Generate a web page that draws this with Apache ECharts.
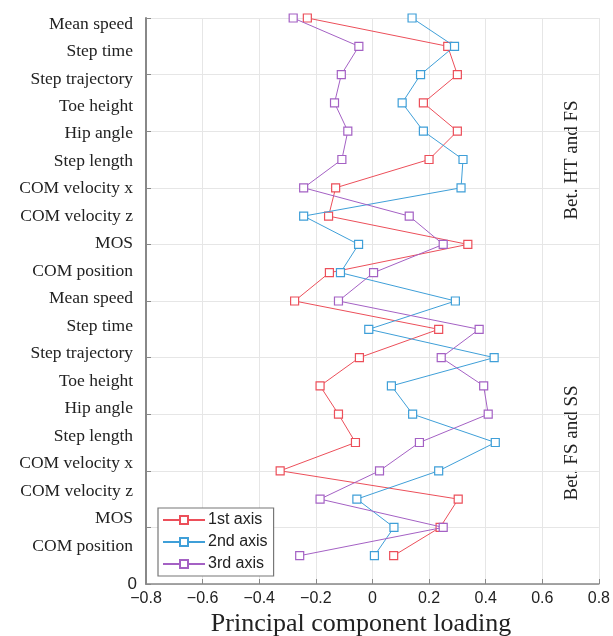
<!DOCTYPE html>
<html>
<head>
<meta charset="utf-8">
<script src="https://cdn.jsdelivr.net/npm/echarts@6/dist/echarts.min.js"></script>
<style>html,body{margin:0;padding:0;background:#fff}#c{width:613px;height:636px}</style>
</head>
<body>
<div id="c"></div>
<script>
var categories = ['Mean speed','Step time','Step trajectory','Toe height','Hip angle','Step length','COM velocity x','COM velocity z','MOS','COM position',
                  'Mean speed','Step time','Step trajectory','Toe height','Hip angle','Step length','COM velocity x','COM velocity z','MOS','COM position'];
var axis1 = [-0.23, 0.266, 0.30, 0.18, 0.30, 0.20, -0.13, -0.155, 0.337, -0.152,
             -0.275, 0.234, -0.046, -0.185, -0.12, -0.06, -0.326, 0.303, 0.239, 0.075];
var axis2 = [0.14, 0.29, 0.17, 0.105, 0.18, 0.32, 0.313, -0.243, -0.049, -0.113,
             0.293, -0.013, 0.43, 0.067, 0.142, 0.434, 0.234, -0.055, 0.076, 0.007];
var axis3 = [-0.28, -0.048, -0.11, -0.134, -0.087, -0.108, -0.243, 0.13, 0.25, 0.004,
             -0.12, 0.377, 0.243, 0.393, 0.409, 0.166, 0.025, -0.185, 0.25, -0.257];
var seriesNames = ['1st axis', '2nd axis', '3rd axis'];
var groupLabels = ['Bet. HT and FS', 'Bet. FS and SS'];
var colors = ['#ec4f5a', '#3f9fd8', '#a461c4'];

var n = categories.length;
function toPoints(arr){ return arr.map(function(v,i){ return [v, n - i]; }); }
function fmtX(v){
  var s = (Math.round(v*10)/10).toString();
  if (s === '0') return '0';
  return s.replace('-', '\u2212');
}
var datasets = [axis1, axis2, axis3];
var series = datasets.map(function(d, k){
  return {
    name: seriesNames[k], type: 'line', xAxisIndex: 0, yAxisIndex: 0,
    data: toPoints(d), symbol: 'rect', symbolSize: 8,
    lineStyle: { color: colors[k], width: 1 },
    itemStyle: { color: '#fff', borderColor: colors[k], borderWidth: 1.2 },
    animation: false, z: 3 + k
  };
});

var chart = echarts.init(document.getElementById('c'), null, {renderer: 'canvas'});
chart.setOption({
  backgroundColor: '#fff',
  animation: false,
  grid: [
    { left: 146, right: 13, top: 18, bottom: 52, containLabel: false },
    { left: 146, right: 13, top: 24, bottom: 90, containLabel: false }
  ],
  legend: {
    data: seriesNames, orient: 'vertical', left: 158, top: 508,
    itemWidth: 42, itemHeight: 10, itemGap: 6,
    borderColor: '#777', borderWidth: 1.2, padding: [4, 6, 4, 4],
    backgroundColor: '#fff',
    textStyle: { fontFamily: 'Liberation Sans', fontSize: 16, color: '#222', padding: [0,0,0,-2] }
  },
  xAxis: [
    {
      gridIndex: 0, type: 'value', min: -0.8, max: 0.8, interval: 0.2,
      axisLine: { show: true, onZero: false, lineStyle: { color: '#888', width: 1.5 } },
      axisTick: { show: true, inside: true, length: 5, lineStyle: { color: '#888' } },
      splitLine: { show: true, lineStyle: { color: '#e6e6e6', width: 1 } },
      axisLabel: { formatter: fmtX, fontFamily: 'Liberation Sans', fontSize: 16, color: '#222', margin: 7 }
    },
    {
      gridIndex: 1, type: 'value', min: -0.8, max: 0.8, show: false
    }
  ],
  yAxis: [
    {
      gridIndex: 0, type: 'value', min: 0, max: n, interval: 2,
      axisLine: { show: true, onZero: false, lineStyle: { color: '#888', width: 2 } },
      axisTick: { show: true, inside: true, length: 5, lineStyle: { color: '#888' } },
      splitLine: { show: true, lineStyle: { color: '#e6e6e6', width: 1 } },
      axisLabel: { formatter: function(v){ return v === 0 ? '0' : ''; }, fontFamily: 'Liberation Sans', fontSize: 17, color: '#222', margin: 9 }
    },
    {
      gridIndex: 1, type: 'category', data: categories.slice().reverse(), boundaryGap: false,
      axisLine: { show: false, onZero: false }, axisTick: { show: false }, splitLine: { show: false },
      axisLabel: {
        interval: 0,
        fontFamily: 'Liberation Serif', fontSize: 17.5, color: '#222', margin: 13
      }
    }
  ],
  graphic: [
    { type: 'text', x: 361, y: 624, style: { text: 'Principal component loading', font: '26px "Liberation Serif"', fill: '#222', textAlign: 'center', textVerticalAlign: 'middle' } },
    { type: 'text', x: 572, y: 160, rotation: Math.PI/2, style: { text: groupLabels[0], font: '19px "Liberation Serif"', fill: '#222', textAlign: 'center', textVerticalAlign: 'middle' } },
    { type: 'text', x: 572, y: 443, rotation: Math.PI/2, style: { text: groupLabels[1], font: '19px "Liberation Serif"', fill: '#222', textAlign: 'center', textVerticalAlign: 'middle' } }
  ],
  series: series
});
</script>
</body>
</html>
